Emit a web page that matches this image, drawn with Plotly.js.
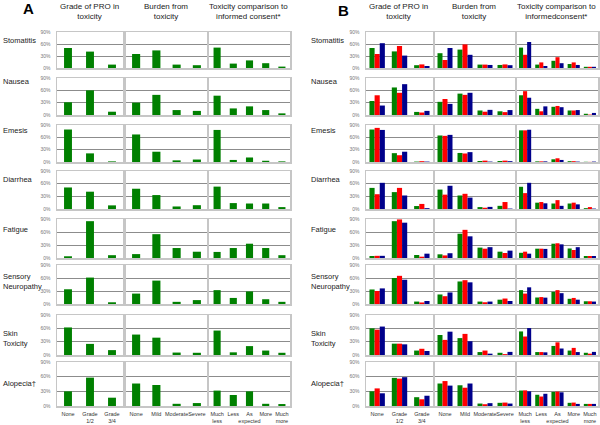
<!DOCTYPE html>
<html>
<head>
<meta charset="utf-8">
<script src="https://cdn.plot.ly/plotly-3.0.1.min.js"></script>
<style>html,body{margin:0;padding:0;background:#fff;}#chart{width:600px;height:425px;}</style>
</head>
<body>
<div id="chart"></div>
<script>
// ---- categories and labels ----
const toxicities = ['Stomatitis','Nausea','Emesis','Diarrhea','Fatigue','Sensory<br>Neuropathy','Skin<br>Toxicity','Alopecia\u2020'];
const gradeCats = ['None','Grade 1/2','Grade 3/4'];
const burdenCats = ['None','Mild','Moderate','Severe'];
const consentCats = ['Much less','Less','As expected','More','Much more'];
const headersA = ['Grade of PRO in<br>toxicity','Burden from<br>toxicity','Toxicity comparison to<br>informed consent*'];
const headersB = ['Grade of PRO in<br>toxicity','Burden from<br>toxicity','Toxicity comparison to<br>informedconsent*'];
const yTicks = [0,30,60,90];
const yTickLabels = ['0%','30%','60%','90%'];

// ---- panel A (single series, %) ----
const aGrade = [[50,41,8.5],[31,60,8],[79,21,1.5],[51,41,8.6],[4,85,6.5],[34,61,4],[62,25,11],[30,58,17]];
const aBurden = [[35,44,8.5,7],[30,49,12,10],[67,25,4,6],[48,33,6,9],[9,55,23,14.5],[24,54,5,9],[46,39,5.5,5],[46,43,4.5,6]];
const aConsent = [[51,11,19,12,3.5],[47,16,21,12,4],[78,5,11,3,1.5],[53,14,13,13,4.5],[14,23,33,23,6.5],[32,14,29,11,5],[55,6,20,10,5],[31.5,22.5,30,4.5,4]];

// ---- panel B (three series, %) ----
const bGradeGreen = [[50,41.5,7],[34,67,7.5],[79,21.5,1],[50,40,7],[4.6,85,7],[33.5,60,5.6],[60,25.5,10],[30,57.5,18]];
const bGradeRed   = [[35,55,9],[48,54,6],[83,16.5,2],[35,50,12],[5,89,3],[30,65,3.5],[57,25.5,14],[36,56,13.7]];
const bGradeBlue  = [[62,31,5],[23,75,10],[78,25,1],[62,32,2],[5,81.5,10],[36,56,7],[64,24,9],[26,59,21]];

const bBurdenGreen = [[37,46,8.5,7.6],[32,52,11,9],[64.5,22,2.5,2.5],[46,32,4.5,7.5],[8.5,56,24,14.6],[22,52,5.6,10],[45,38,6.6,5],[46,42.4,5,6.5]];
const bBurdenRed   = [[20,59,8.5,9],[39,49,8,7],[63.6,20.7,3.3,3.3],[34,36,3,16.5],[6,65,21.5,11.5],[18,55,4,12.6],[34,47.5,10,2],[51,37.4,3.6,7]];
const bBurdenBlue  = [[50,33,7.6,7],[27,54,12.5,12],[66,24,1,2],[55,27,5,1],[11,50,25,17],[26.6,50,5.6,7],[52.5,31,3,7],[41.7,46,5.8,5]];

const bConsentGreen = [[51,8.5,18,10,3],[48,15,20,11,3],[77,1.5,6.6,2,0.5],[52.6,15,13,13,2],[12,21.5,33,22,4.6],[32,15,28,12,6.3],[53,6.6,20.4,10,5],[31.6,23,28.8,6.5,4.3]];
const bConsentRed   = [[33,14,27,14,3],[58,9,22,11,1],[77,1.5,9,2,0.3],[37.6,16.5,21,15,4.5],[14.6,21.5,34,18.5,4.6],[24,16,32,14,6.3],[41.6,6.6,28.5,16,3],[32,19.4,29.5,7,4.3]];
const bConsentBlue  = [[65,5,12,7.6,3],[42,21,19,12,5],[78.5,1.5,5,1,1],[62,13.5,7.5,11,1],[10,21,31.5,25,4.6],[38.5,14.7,25,10,5.6],[60.6,6,14.6,6.6,7],[30,25,28,4.3,4.3]];

// ---- styles / layout geometry (pixels) ----
const W = 600, H = 425;
const GREEN = '#008000', RED = '#ff0000', BLUE = '#00008b';
const colsA = [[57,123],[126,207],[209,290]];
const colsB = [[366,433],[435,515],[517,598]];
const rowsPx = [[32,68],[78,115],[125,162],[171,209],[219,258],[265,304],[315,355],[362,406]];
const rowLabelY = [41,82,130,179,229,281,338,383];
const catsByCol = [gradeCats, burdenCats, consentCats];
const aData = [aGrade, aBurden, aConsent];
const bData = [[bGradeGreen,bGradeRed,bGradeBlue],[bBurdenGreen,bBurdenRed,bBurdenBlue],[bConsentGreen,bConsentRed,bConsentBlue]];
const aWidth = [0.36, 0.40, 0.44];
const bWidth = [0.23, 0.25, 0.25];

const px2x = p => p / W;
const px2y = p => 1 - p / H;

const traces = [];
const layout = {
  width: W, height: H, autosize: false,
  margin: {l:0, r:0, t:0, b:0, pad:0},
  showlegend: false, barmode: 'overlay',
  paper_bgcolor: '#ffffff', plot_bgcolor: '#ffffff',
  font: {family: 'Liberation Sans, Arial, sans-serif', color: '#222'},
  annotations: []
};

let k = 0;
function addAxes(colPx, rowPx, cats, showY, showX) {
  k += 1;
  const sfx = (k === 1 ? '' : String(k));
  layout['xaxis' + sfx] = {
    domain: [px2x(colPx[0]), px2x(colPx[1])], anchor: 'y' + sfx,
    range: [-0.5, cats.length - 0.5], tickmode: 'array', tickvals: cats.map((c, i) => i),
    ticktext: cats.map(c => c.replace(' ', '<br>')), tickangle: 0,
    showticklabels: showX, ticks: '', ticklabelstandoff: 2, showgrid: false, zeroline: false,
    showline: true, mirror: true, linecolor: '#c6c6c6', linewidth: 1.5,
    tickfont: {size: 5.5, color: '#333', family: 'Liberation Sans Narrow, Arial Narrow, sans-serif'}, fixedrange: true
  };
  layout['yaxis' + sfx] = {
    domain: [px2y(rowPx[1]), px2y(rowPx[0])], anchor: 'x' + sfx,
    range: [0, 90], tickmode: 'array', tickvals: yTicks, ticktext: yTickLabels,
    showticklabels: showY, ticks: '', ticklabelstandoff: 4,
    showgrid: true, gridcolor: '#8c8c8c', gridwidth: 1, zeroline: false,
    showline: true, mirror: true, linecolor: '#c6c6c6', linewidth: 1.5,
    tickfont: {size: 5, color: '#777'}, fixedrange: true
  };
  return ['x' + sfx, 'y' + sfx];
}

for (let r = 0; r < toxicities.length; r++) {
  // Panel A
  for (let c = 0; c < 3; c++) {
    const cats = catsByCol[c];
    const [xa, ya] = addAxes(colsA[c], rowsPx[r], cats, c === 0, r === toxicities.length - 1);
    traces.push({type: 'bar', x: cats.map((s, i) => i), y: aData[c][r], xaxis: xa, yaxis: ya,
      width: aWidth[c], marker: {color: GREEN, line: {width: 0}}, hoverinfo: 'skip'});
  }
  // Panel B
  for (let c = 0; c < 3; c++) {
    const cats = catsByCol[c];
    const [xa, ya] = addAxes(colsB[c], rowsPx[r], cats, c === 0, r === toxicities.length - 1);
    const colors = [GREEN, RED, BLUE];
    const w = bWidth[c];
    for (let s = 0; s < 3; s++) {
      traces.push({type: 'bar', x: cats.map((q, i) => i), y: bData[c][s][r], xaxis: xa, yaxis: ya,
        width: w, offset: (s - 1.5) * w, marker: {color: colors[s], line: {width: 0}}, hoverinfo: 'skip'});
    }
  }
  // row labels
  layout.annotations.push({text: toxicities[r], xref: 'paper', yref: 'paper', x: px2x(1), y: px2y(rowLabelY[r]),
    xanchor: 'left', yanchor: 'middle', align: 'left', showarrow: false, font: {size: 7.5, color: '#222'}});
  layout.annotations.push({text: toxicities[r], xref: 'paper', yref: 'paper', x: px2x(309), y: px2y(rowLabelY[r]),
    xanchor: 'left', yanchor: 'middle', align: 'left', showarrow: false, font: {size: 7.5, color: '#222'}});
}

// headers
for (let c = 0; c < 3; c++) {
  layout.annotations.push({text: headersA[c], xref: 'paper', yref: 'paper', x: px2x((colsA[c][0] + colsA[c][1]) / 2 - 1), y: px2y(12),
    xanchor: 'center', yanchor: 'middle', align: 'center', showarrow: false, font: {size: 8, color: '#222'}});
  layout.annotations.push({text: headersB[c], xref: 'paper', yref: 'paper', x: px2x((colsB[c][0] + colsB[c][1]) / 2 - 1), y: px2y(12),
    xanchor: 'center', yanchor: 'middle', align: 'center', showarrow: false, font: {size: 8, color: '#222'}});
}
// panel letters
layout.annotations.push({text: '<b>A</b>', xref: 'paper', yref: 'paper', x: px2x(28), y: px2y(9),
  xanchor: 'center', yanchor: 'middle', showarrow: false, font: {size: 15, color: '#000', family: 'Liberation Sans, Arial, sans-serif'}});
layout.annotations.push({text: '<b>B</b>', xref: 'paper', yref: 'paper', x: px2x(343), y: px2y(10),
  xanchor: 'center', yanchor: 'middle', showarrow: false, font: {size: 15, color: '#000', family: 'Liberation Sans, Arial, sans-serif'}});

Plotly.newPlot('chart', traces, layout, {staticPlot: true, displayModeBar: false});
</script>
</body>
</html>
